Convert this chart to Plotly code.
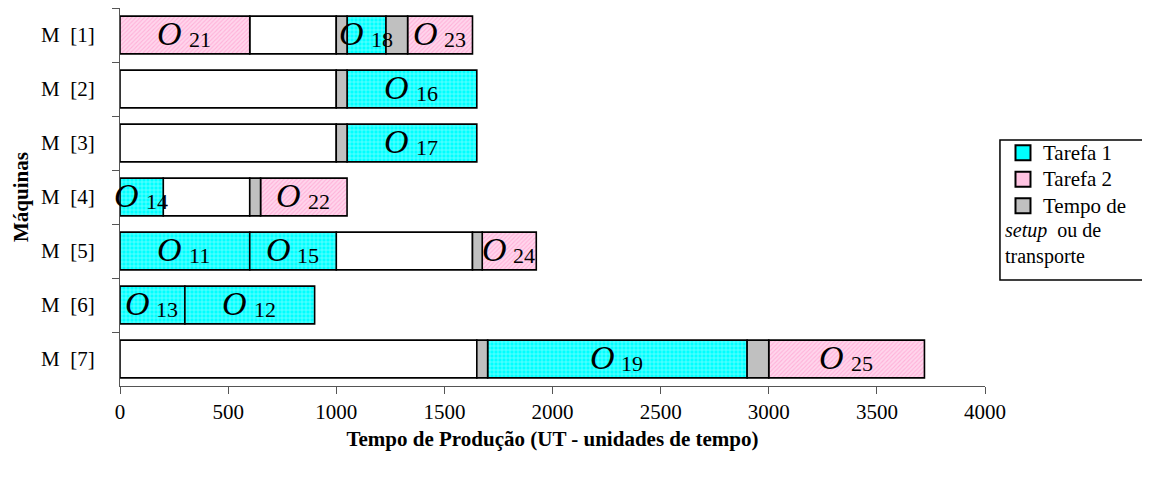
import plotly.graph_objects as go

# machines (top to bottom)
machines = ["M\u00a0 [1]", "M\u00a0 [2]", "M\u00a0 [3]", "M\u00a0 [4]", "M\u00a0 [5]", "M\u00a0 [6]", "M\u00a0 [7]"]

# operations
op_label = ["21", "18", "23", "16", "17", "14", "22", "11", "15", "24", "13", "12", "19", "25"]
op_machine = [1, 1, 1, 2, 3, 4, 4, 5, 5, 5, 6, 6, 7, 7]
op_start = [0, 1050, 1330, 1050, 1050, 0, 650, 0, 600, 1675, 0, 300, 1700, 3000]
op_end = [600, 1230, 1630, 1650, 1650, 200, 1050, 600, 1000, 1925, 300, 900, 2900, 3720]
op_task = [2, 1, 2, 1, 1, 1, 2, 1, 1, 2, 1, 1, 1, 2]

# idle time (white)
idle_machine = [1, 2, 3, 4, 5, 7]
idle_start = [600, 0, 0, 200, 1000, 0]
idle_end = [1000, 1000, 1000, 600, 1630, 1650]

# setup / transport (grey)
setup_machine = [1, 1, 2, 3, 4, 5, 7, 7]
setup_start = [1000, 1230, 1000, 1000, 600, 1630, 1650, 2900]
setup_end = [1050, 1330, 1050, 1050, 650, 1675, 1700, 3000]

FONT = "Liberation Serif, Times New Roman, serif"
BAR_W = 0.7
edge = dict(color="black", width=1.6)

fig = go.Figure()

# idle segments
fig.add_trace(go.Bar(
    y=[machines[m - 1] for m in idle_machine],
    x=[e - s for s, e in zip(idle_start, idle_end)],
    base=idle_start, orientation="h", width=BAR_W,
    marker=dict(color="white", line=edge),
    showlegend=False, hoverinfo="skip"
))

# task segments
task_style = {
    1: dict(name="Tarefa 1", swatch="#00ffff",
            pattern=dict(shape="+", bgcolor="#00ffff", fgcolor="white", size=4, solidity=0.3)),
    2: dict(name="Tarefa 2", swatch="#ffc4e2",
            pattern=dict(shape="/", bgcolor="#ffd6ec", fgcolor="#ff8cc6", size=3, solidity=0.35)),
}
for t in (1, 2):
    idx = [i for i in range(len(op_label)) if op_task[i] == t]
    fig.add_trace(go.Bar(
        y=[machines[op_machine[i] - 1] for i in idx],
        x=[op_end[i] - op_start[i] for i in idx],
        base=[op_start[i] for i in idx],
        orientation="h", width=BAR_W, showlegend=False,
        marker=dict(color=task_style[t]["pattern"]["bgcolor"], pattern=task_style[t]["pattern"], line=edge),
    ))

# setup segments
fig.add_trace(go.Bar(
    y=[machines[m - 1] for m in setup_machine],
    x=[e - s for s, e in zip(setup_start, setup_end)],
    base=setup_start, orientation="h", width=BAR_W, showlegend=False,
    marker=dict(color="#c0c0c0", line=edge),
))

# legend entries (larger square swatches)
legend_items = [(task_style[1]["name"], task_style[1]["swatch"]),
                (task_style[2]["name"], task_style[2]["swatch"]),
                ("Tempo de", "#c0c0c0")]
for name, col in legend_items:
    fig.add_trace(go.Scatter(
        x=[None], y=[None], mode="markers",
        name=f"<span style='font-size:21px'>{name}</span>",
        marker=dict(symbol="square", size=15, color=col, line=dict(color="black", width=2)),
    ))

# operation labels: big italic O followed by a lowered index
annots = []
for lab, m, s, e in zip(op_label, op_machine, op_start, op_end):
    xm = (s + e) / 2
    ym = machines[m - 1]
    annots.append(dict(x=xm, y=ym, xref="x", yref="y", text="<i>O</i>", showarrow=False,
                       xshift=-15, yshift=2, font=dict(family=FONT, size=34, color="black")))
    annots.append(dict(x=xm, y=ym, xref="x", yref="y", text=lab, showarrow=False,
                       xshift=15, yshift=-4, font=dict(family=FONT, size=22, color="black")))

annots += [
    dict(text="<i>setup</i>  ou de<br>transporte", xref="paper", yref="paper",
         x=1.021, y=0.447, xanchor="left", yanchor="top", align="left",
         showarrow=False, font=dict(family=FONT, size=20)),
    dict(text="<b>Máquinas</b>", xref="paper", yref="paper",
         x=-0.1145, xanchor="center", y=0.5, yanchor="middle", textangle=-90, showarrow=False,
         font=dict(family=FONT, size=21)),
]

# page body has an 8px margin, so the figure is drawn 8px smaller
fig.update_layout(
    width=1142, height=472,
    barmode="overlay",
    plot_bgcolor="white", paper_bgcolor="white",
    margin=dict(l=112, r=165, t=0, b=94),
    font=dict(family=FONT, size=21, color="black"),
    legend=dict(
        x=1.0208, xanchor="left", y=0.665, yanchor="top",
        bgcolor="rgba(0,0,0,0)", font=dict(size=18),
        traceorder="normal", itemwidth=30,
    ),
    shapes=[dict(
        type="rect", xref="paper", yref="paper",
        x0=1.0173, x1=1.1884, y0=0.2804, y1=0.6508,
        line=dict(color="black", width=1.5), fillcolor="rgba(0,0,0,0)",
    )],
    annotations=annots,
)

fig.update_xaxes(
    range=[0, 4000], dtick=500, tick0=0, automargin=False,
    showline=True, linecolor="#555", linewidth=1.2,
    ticks="outside", ticklen=7, tickcolor="#555",
    showgrid=False, zeroline=False,
    title=dict(text="<b>Tempo de Produção (UT - unidades de tempo)</b>", standoff=8,
               font=dict(family=FONT, size=21)),
)
fig.update_yaxes(
    type="category", categoryorder="array", categoryarray=machines,
    autorange="reversed", automargin=False,
    showline=True, linecolor="#555", linewidth=1.2,
    ticks="outside", ticklen=7, tickcolor="#555", tickson="boundaries",
    ticklabelstandoff=20, showgrid=False,
)

fig.write_html("out.html")
